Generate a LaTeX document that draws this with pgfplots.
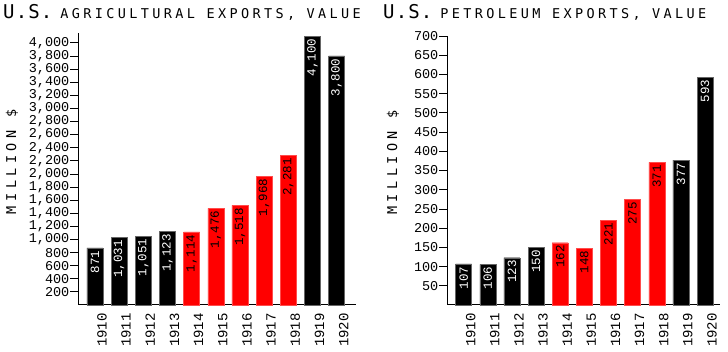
\documentclass[border=0pt]{standalone}
\usepackage{pgfplots}
\pgfplotsset{compat=1.18}
\usepackage{fontspec}
\newfontfamily\monofont{Liberation Mono}
\newfontfamily\titlefont[LetterSpace=25]{DejaVu Sans Mono}
\newfontfamily\labfont[LetterSpace=33]{DejaVu Sans Mono}
\newfontfamily\titlefontbig[LetterSpace=6]{DejaVu Sans Mono}
\definecolor{barred}{RGB}{255,0,0}
\newcommand\tickfont{\monofont\fontsize{13.5}{14}\selectfont}
\newcommand\xtickfont{\monofont\fontsize{14}{14}\selectfont}
\newcommand\barfont{\monofont\fontsize{12.5}{13}\selectfont}
\pgfplotsset{
  myaxis/.style={
    scale only axis,
    anchor=south west,
    axis lines=left,
    axis line style={-, line width=1pt},
    ybar, bar width=16pt, bar shift=0pt,
    tick align=outside,
    major tick length=8pt,
    xtick={1910,...,1920},
    xticklabels={1910,1911,1912,1913,1914,1915,1916,1917,1918,1919,1920},
    xtick style={draw=none},
    ytick style={line width=0.8pt, black},
    /pgf/number format/assume math mode=true,
    /pgf/number format/1000 sep={,},
    yticklabel style={font=\tickfont, inner sep=0.5pt},
    xticklabel style={font=\xtickfont, rotate=90, anchor=east, inner sep=0pt, yshift=-7pt},
    ylabel={MILLION \$},
    ylabel style={font=\labfont\fontsize{13.5}{14}\selectfont, anchor=center},
    nodes near coords,
    every node near coord/.append style={rotate=90, anchor=east, font=\barfont, inner sep=2.5pt},
    clip=false,
  },
  blackbars/.style={fill=black, draw=black!60, line width=0.4pt, every node near coord/.append style={text=white}},
  redbars/.style={fill=barred, draw=red!70!white, line width=0.4pt, every node near coord/.append style={text=black}},
}
\begin{document}
\begin{tikzpicture}
\useasboundingbox (0,0) rectangle (728pt,352pt);
% titles
\node[anchor=base west, inner sep=0pt] at (3pt,333pt) {{\titlefontbig\fontsize{19}{20}\selectfont U.S.}\hspace{8pt}{\titlefont\fontsize{13.5}{14}\selectfont AGRICULTURAL EXPORTS, VALUE}};
\node[anchor=base west, inner sep=0pt] at (383pt,333pt) {{\titlefontbig\fontsize{19}{20}\selectfont U.S.}\hspace{8pt}{\titlefont\fontsize{13.5}{14}\selectfont PETROLEUM EXPORTS, VALUE}};
% left
\begin{axis}[myaxis,
  at={(78pt,47pt)}, width=278pt, height=272pt,
  xmin=1909.3, xmax=1920.8, ymin=0, ymax=4150,
  ytick={200,400,...,4000},
  ylabel style={at={(axis description cs:-0.237,0.526)}},
]
\addplot[blackbars] coordinates {(1910,871) (1911,1031) (1912,1051) (1913,1123) (1919,4100) (1920,3800)};
\addplot[redbars] coordinates {(1914,1114) (1915,1476) (1916,1518) (1917,1968) (1918,2281)};
\end{axis}
% right
\begin{axis}[myaxis,
  at={(447pt,47pt)}, width=273pt, height=269pt,
  xmin=1909.31, xmax=1920.62, ymin=0, ymax=700,
  ytick={50,100,...,700},
  ylabel style={at={(axis description cs:-0.198,0.53)}},
]
\addplot[blackbars] coordinates {(1910,107) (1911,106) (1912,123) (1913,150) (1919,377) (1920,593)};
\addplot[redbars] coordinates {(1914,162) (1915,148) (1916,221) (1917,275) (1918,371)};
\end{axis}
\end{tikzpicture}
\end{document}
